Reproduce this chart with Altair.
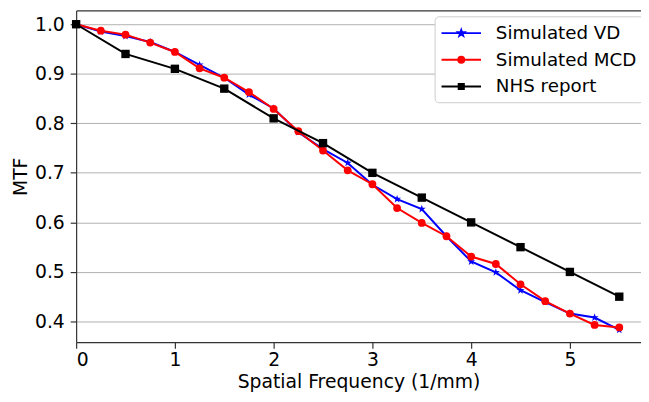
import math
import altair as alt
import pandas as pd

# ---- data ----
freq = [0, 0.25, 0.5, 0.75, 1.0, 1.25, 1.5, 1.75, 2.0, 2.25, 2.5, 2.75,
        3.0, 3.25, 3.5, 3.75, 4.0, 4.25, 4.5, 4.75, 5.0, 5.25, 5.5]
sim_vd = [1.0, 0.985, 0.976, 0.964, 0.944, 0.918, 0.892, 0.858, 0.830, 0.782, 0.748, 0.720,
          0.676, 0.647, 0.627, 0.572, 0.521, 0.499, 0.463, 0.439, 0.416, 0.408, 0.383]
sim_mcd = [1.0, 0.987, 0.979, 0.963, 0.944, 0.911, 0.892, 0.863, 0.829, 0.784, 0.745, 0.705,
           0.677, 0.629, 0.599, 0.572, 0.531, 0.516, 0.475, 0.441, 0.416, 0.393, 0.388]
nhs_freq = [0, 0.5, 1.0, 1.5, 2.0, 2.5, 3.0, 3.5, 4.0, 4.5, 5.0, 5.5]
nhs = [1.0, 0.94, 0.91, 0.87, 0.81, 0.76, 0.70, 0.65, 0.60, 0.55, 0.50, 0.45]

series_names = ["Simulated VD", "Simulated MCD", "NHS report"]
series_colors = ["#0000ff", "#ff0000", "#000000"]
x_ticks = [0, 1, 2, 3, 4, 5]
y_ticks = [0.4, 0.5, 0.6, 0.7, 0.8, 0.9, 1.0]

df_vd = pd.DataFrame({"f": freq, "v": sim_vd, "series": series_names[0]})
df_mcd = pd.DataFrame({"f": freq, "v": sim_mcd, "series": series_names[1]})
df_nhs = pd.DataFrame({"f": nhs_freq, "v": nhs, "series": series_names[2]})
df_all = pd.concat([df_vd, df_mcd, df_nhs], ignore_index=True)

# ---- marker shapes ----
def star_path(r_out=1.0, r_in=0.4, cx=0.0):
    pts = []
    for k in range(10):
        ang = -math.pi / 2 + k * math.pi / 5
        r = r_out if k % 2 == 0 else r_in
        pts.append((cx + r * math.cos(ang), r * math.sin(ang)))
    return "M" + "L".join(f"{x:.4f},{y:.4f}" for x, y in pts) + "Z"

STAR = star_path()
# legend symbols: nominal box -1..1 (20 px), drawn from -1 to 3 (40 px), centred at +1
line_seg = "M-1,0L3,0"
leg_star = line_seg + star_path(0.32, 0.13, 1.0)
leg_circle = line_seg + "M0.7,0A0.3,0.3 0 1,0 1.3,0A0.3,0.3 0 1,0 0.7,0Z"
leg_square = line_seg + "M0.74,-0.26L1.26,-0.26L1.26,0.26L0.74,0.26Z"
legend_shapes = [leg_star, leg_circle, leg_square]

x_scale = alt.Scale(domain=[0, 5.72], nice=False, zero=False)
y_scale = alt.Scale(domain=[0.3581, 1.0279], nice=False, zero=False)

x_enc = alt.X("f:Q", scale=x_scale,
              axis=alt.Axis(orient="bottom", values=x_ticks, format="d",
                            title="Spatial Frequency (1/mm)",
                            grid=False, labelPadding=3, titlePadding=3))
y_enc = alt.Y("v:Q", scale=y_scale,
              axis=alt.Axis(values=y_ticks, format=".1f", title="MTF", grid=True,
                            labelPadding=6, titlePadding=4))


def series_layer(df, color, shape, size):
    return alt.Chart(df).mark_line(
        color=color, strokeWidth=2,
        point=alt.OverlayMarkDef(shape=shape, size=size, filled=True, color=color, opacity=1),
    ).encode(x=x_enc, y=y_enc)


l_vd = series_layer(df_vd, series_colors[0], STAR, 72)
l_mcd = series_layer(df_mcd, series_colors[1], "circle", 62)
l_nhs = series_layer(df_nhs, series_colors[2], "square", 72)
main = alt.layer(l_vd, l_mcd, l_nhs)

leg = alt.Legend(title=None, orient="none", legendX=363, legendY=6,
                 symbolSize=400, symbolStrokeWidth=2, labelOffset=34, rowPadding=6,
                 labelFontSize=18.5, labelFont="DejaVu Sans", labelColor="#000000",
                 padding=6, fillColor="#ffffff", strokeColor="#cccccc", cornerRadius=4)

legend_layer = alt.Chart(df_all).transform_filter("false").mark_point(
    filled=True, opacity=1, strokeWidth=2
).encode(
    x=alt.X("f:Q", scale=x_scale,
            axis=alt.Axis(orient="top", labels=False, ticks=False, grid=False, title=None, domain=True)),
    fill=alt.Fill("series:N", scale=alt.Scale(domain=series_names, range=series_colors), legend=leg),
    stroke=alt.Stroke("series:N", scale=alt.Scale(domain=series_names, range=series_colors), legend=leg),
    shape=alt.Shape("series:N", scale=alt.Scale(domain=series_names, range=legend_shapes), legend=leg),
)

chart = alt.layer(main, legend_layer).resolve_scale(x="independent").properties(
    width=572, height=336,
    autosize=alt.AutoSizeParams(type="none"),
    padding={"left": 69, "top": 0, "right": 0, "bottom": 50},
).configure(font="DejaVu Sans").configure_view(strokeWidth=0).configure_axis(
    domainColor="#333333", domainWidth=1.2, tickColor="#333333", tickWidth=1.2, tickSize=6,
    labelFont="DejaVu Sans", labelFontSize=19, labelColor="#000000",
    titleFont="DejaVu Sans", titleFontSize=19, titleFontWeight="normal", titleColor="#000000",
    gridColor="#b0b0b0", gridWidth=1,
)

chart.save("out.html", embed_options={"renderer": "svg", "actions": False})
